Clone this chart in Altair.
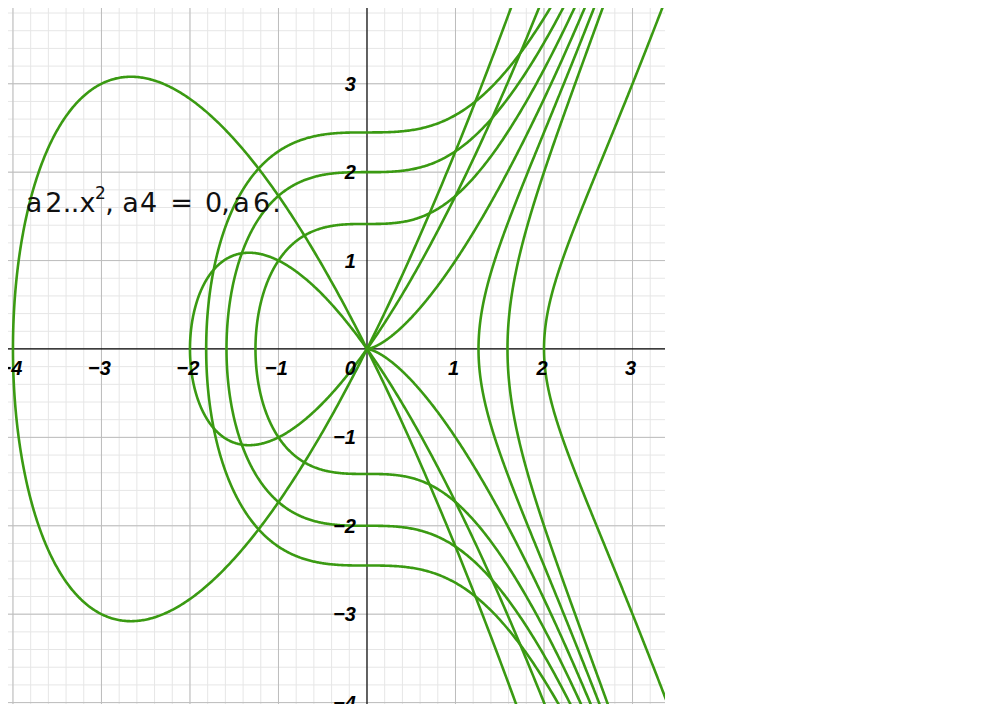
import numpy as np
import pandas as pd
import altair as alt

alt.data_transformers.disable_max_rows()

# Curves y^2 = x^3 + a2*x^2 + a6  (a4 = 0)
nodal_a2 = [4, 2, 0, -2]      # a6 = 0 : nodal / cuspidal curves
shift_a6 = [6, 4, 2, -2, -4]  # a2 = 0 : smooth curves

x_ticks = [-4, -3, -2, -1, 1, 2, 3]
y_ticks = [-4, -3, -2, -1, 1, 2, 3, 4]
title_glyphs = ["a", "2", ".", ".", "x", "2", ",", "a", "4", "=", "0", ",", "a", "6", "."]
title_sup = [False, False, False, False, False, True, False, False, False, False, False, False, False, False, False]
title_center_px = [34, 54, 67, 75, 87.5, 100.5, 109.5, 130.5, 148.5, 181.5, 213.5, 225.5, 241.5, 261.5, 276.5]

X_MIN, X_MAX = -4.056, 3.367
Y_MIN, Y_MAX = -4.016, 3.857
PX0, PXU = 367.0, 88.5
GREEN = "#3a9a12"

N = 500
s = np.linspace(0, 1, N)
rows = []
cid = 0
for a2 in nodal_a2:
    x0 = -a2 if a2 > 0 else (0.0 if a2 == 0 else -a2)
    xs = x0 + (3.5 - x0) * s ** 2
    up = xs * np.sqrt(np.maximum(xs + a2, 0))
    xx = np.concatenate([xs[::-1], xs[1:]])
    yy = np.concatenate([up[::-1], -up[1:]])
    for i, (a, b) in enumerate(zip(xx, yy)):
        rows.append({"c": cid, "o": i, "x": a, "y": b})
    cid += 1
for a6 in shift_a6:
    x0 = -np.cbrt(a6)
    xs = x0 + (3.5 - x0) * s ** 2
    up = np.sqrt(np.maximum(xs ** 3 + a6, 0))
    xx = np.concatenate([xs[::-1], xs[1:]])
    yy = np.concatenate([up[::-1], -up[1:]])
    for i, (a, b) in enumerate(zip(xx, yy)):
        rows.append({"c": cid, "o": i, "x": a, "y": b})
    cid += 1
curves = pd.DataFrame(rows)

xsc = alt.Scale(domain=[X_MIN, X_MAX], nice=False, zero=False)
ysc = alt.Scale(domain=[Y_MIN, Y_MAX], nice=False, zero=False)
noax = None

minor_x = [round(v, 2) for v in np.arange(-4.0, 3.4, 0.2)]
minor_y = [round(v, 2) for v in np.arange(-4.0, 3.9, 0.2)]
major_x = [-4, -3, -2, -1, 1, 2, 3]
major_y = [-4, -3, -2, -1, 1, 2, 3]

def vrules(vals, color, width):
    return alt.Chart(pd.DataFrame({"v": vals})).mark_rule(color=color, strokeWidth=width).encode(
        x=alt.X("v:Q", scale=xsc, axis=noax))

def hrules(vals, color, width):
    return alt.Chart(pd.DataFrame({"v": vals})).mark_rule(color=color, strokeWidth=width).encode(
        y=alt.Y("v:Q", scale=ysc, axis=noax))

grid = (vrules(minor_x, "#e6e6e6", 1) + hrules(minor_y, "#e6e6e6", 1)
        + vrules(major_x, "#bdbdbd", 1) + hrules(major_y, "#bdbdbd", 1)
        + vrules([0], "#000000", 1.2) + hrules([0], "#000000", 1.2))

lines = alt.Chart(curves).mark_line(color=GREEN, strokeWidth=2.6, clip=True).encode(
    x=alt.X("x:Q", scale=xsc, axis=noax),
    y=alt.Y("y:Q", scale=ysc, axis=noax),
    detail="c:N",
    order="o:Q",
)

def lab(v):
    return ("\u2212" + str(-v)) if v < 0 else str(v)

lab_font = dict(font="Liberation Sans", fontSize=20, fontStyle="italic", fontWeight="bold", color="#000000")

xlab_df = pd.DataFrame({"x": x_ticks, "z": [0] * len(x_ticks), "t": [lab(v) for v in x_ticks]})
xlabels = alt.Chart(xlab_df).mark_text(baseline="middle", align="center", dy=20, dx=-2, **lab_font).encode(
    x=alt.X("x:Q", scale=xsc, axis=noax), y=alt.Y("z:Q", scale=ysc, axis=noax), text="t:N")

zero_lab = alt.Chart(pd.DataFrame({"x": [0], "y": [0], "t": ["0"]})).mark_text(
    baseline="middle", align="right", dy=20, dx=-11, **lab_font).encode(
    x=alt.X("x:Q", scale=xsc, axis=noax), y=alt.Y("y:Q", scale=ysc, axis=noax), text="t:N")

ylab_df = pd.DataFrame({"y": y_ticks, "z": [0] * len(y_ticks), "t": [lab(v) for v in y_ticks]})
ylabels = alt.Chart(ylab_df).mark_text(baseline="middle", align="right", dx=-11, dy=1, **lab_font).encode(
    y=alt.Y("y:Q", scale=ysc, axis=noax), x=alt.X("z:Q", scale=xsc, axis=noax), text="t:N")

TITLE_Y = (349 - 212) / 88.4
t_df = pd.DataFrame({
    "x": [(p - PX0) / PXU for p in title_center_px],
    "y": [TITLE_Y] * len(title_glyphs),
    "t": title_glyphs,
    "sup": title_sup,
})
title_main = alt.Chart(t_df).transform_filter("!datum.sup").mark_text(
    font="DejaVu Sans", fontSize=27, align="center", baseline="alphabetic", color="#111111"
).encode(x=alt.X("x:Q", scale=xsc, axis=noax), y=alt.Y("y:Q", scale=ysc, axis=noax), text="t:N")
title_sup_layer = alt.Chart(t_df).transform_filter("datum.sup").mark_text(
    font="DejaVu Sans", fontSize=17, align="center", baseline="alphabetic", dy=-13, color="#111111"
).encode(x=alt.X("x:Q", scale=xsc, axis=noax), y=alt.Y("y:Q", scale=ysc, axis=noax), text="t:N")

chart = alt.layer(grid, lines, xlabels, zero_lab, ylabels, title_main, title_sup_layer).properties(
    width=657, height=696, padding=0,
    autosize=alt.AutoSizeParams(type="none"),
).configure_view(stroke=None)

chart.save("out.html", embed_options={"renderer": "svg", "actions": False})
